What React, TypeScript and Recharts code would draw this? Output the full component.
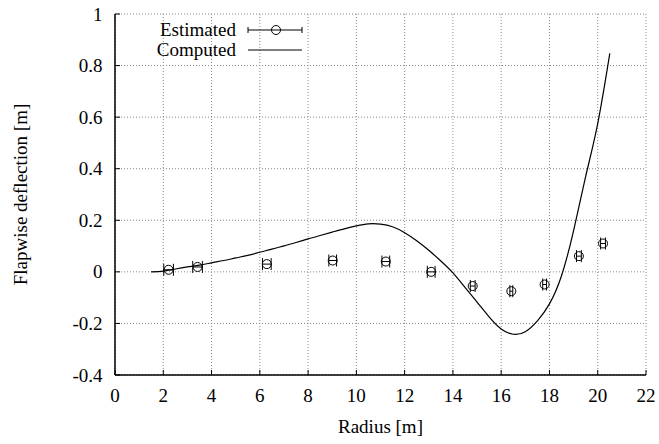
import {
  ComposedChart, Line, Scatter, ErrorBar, XAxis, YAxis, CartesianGrid, Legend
} from 'recharts';

const estRadius = [2.22, 3.42, 6.29, 9.02, 11.22, 13.1, 14.82, 16.42, 17.8, 19.22, 20.22];
const estDeflection = [0.008, 0.019, 0.03, 0.044, 0.04, 0.0, -0.055, -0.075, -0.049, 0.061, 0.11];
const estError = [0.2, 0.2, 0.18, 0.16, 0.16, 0.16, 0.1, 0.06, 0.08, 0.1, 0.1];

const compRadius = [
  1.5, 2, 2.5, 3, 3.5, 4, 4.5, 5, 5.5, 6, 6.5, 7, 7.5, 8, 8.5, 9, 9.5, 10, 10.5, 11,
  11.5, 12, 12.5, 13, 13.5, 14, 14.5, 15, 15.5, 16, 16.5, 17, 17.5, 18, 18.5, 19,
  19.5, 20, 20.5,
];
const compDeflection = [
  0, 0.003, 0.011, 0.019, 0.026, 0.035, 0.044, 0.054, 0.064, 0.076, 0.088, 0.101, 0.114,
  0.128, 0.141, 0.154, 0.167, 0.178, 0.186, 0.185, 0.175, 0.152, 0.121, 0.084, 0.042,
  -0.004, -0.06, -0.117, -0.175, -0.222, -0.242, -0.232, -0.19, -0.124, -0.015, 0.16,
  0.37, 0.575, 0.847,
];

const xTicks = [0, 2, 4, 6, 8, 10, 12, 14, 16, 18, 20, 22];
const yTicks = [-0.4, -0.2, 0, 0.2, 0.4, 0.6, 0.8, 1];

const estimated = estRadius.map((r, i) => ({ r, d: estDeflection[i], err: estError[i] }));
const computed = compRadius.map((r, i) => ({ r, d: compDeflection[i] }));

const FONT = '"Liberation Serif", "Times New Roman", serif';
const FS = 19;
const textStyle = { fontFamily: FONT, fontSize: FS };

// pin the serif face with an inline !important so nothing else wins
const pinFont = (el: SVGTextElement | null) => {
  if (!el) return;
  el.style.setProperty('font-family', FONT, 'important');
  el.style.setProperty('font-size', FS + 'px', 'important');
};

const SerifText = ({ children, ...rest }: any) => (
  <text ref={pinFont} fill="#000" style={textStyle} {...rest}>{children}</text>
);

const XTick = ({ x, y, payload }: any) => (
  <SerifText x={x} y={y + 14} textAnchor="middle">{payload.value}</SerifText>
);

const YTick = ({ x, y, payload }: any) => (
  <SerifText x={x} y={y + 6.5} textAnchor="end">{payload.value}</SerifText>
);

const Ring = (props: any) => (
  <circle cx={props.cx} cy={props.cy} r={4.5} fill="none" stroke="#000" strokeWidth={1} />
);

const LegendBox = () => (
  <svg width={320} height={64} style={{ display: 'block' }}>
    <SerifText x={236} y={36} textAnchor="end">Estimated</SerifText>
    <SerifText x={236} y={56} textAnchor="end">Computed</SerifText>
    <g stroke="#000" strokeWidth={1} fill="none">
      <line x1={248} x2={302} y1={30} y2={30} />
      <line x1={248} x2={248} y1={27} y2={33} />
      <line x1={302} x2={302} y1={27} y2={33} />
      <circle cx={276} cy={30} r={4.5} />
      <line x1={248} x2={302} y1={50} y2={50} />
    </g>
  </svg>
);

const YLabel = ({ viewBox }: any) => {
  const cy = viewBox.y + viewBox.height / 2;
  return (
    <SerifText x={27} y={cy} transform={`rotate(-90 27 ${cy})`} textAnchor="middle">
      Flapwise deflection [m]
    </SerifText>
  );
};

const XLabel = ({ viewBox }: any) => (
  <SerifText x={viewBox.x + viewBox.width / 2} y={viewBox.y + 58} textAnchor="middle">
    Radius [m]
  </SerifText>
);

const blank = () => '';

export default function App() {
  return (
    <div style={{ position: 'absolute', left: 0, top: 0, background: '#fff' }}>
      <ComposedChart width={659} height={444} data={computed}
        margin={{ top: 14, right: 13, bottom: 0, left: 0 }}>
        <CartesianGrid xAxisId="b" yAxisId="l" stroke="#888" strokeDasharray="1 2"
          strokeWidth={1} />
        <XAxis xAxisId="t" orientation="top" type="number" dataKey="r" domain={[0, 22]}
          ticks={xTicks} height={0} tickSize={-5} tickFormatter={blank}
          axisLine={{ stroke: '#000', strokeWidth: 1.5 }} tickLine={{ stroke: '#000' }}
          allowDataOverflow />
        <XAxis xAxisId="b" orientation="bottom" type="number" dataKey="r" domain={[0, 22]}
          ticks={xTicks} height={69} tickSize={-5} tickMargin={18} tick={<XTick />}
          axisLine={{ stroke: '#000', strokeWidth: 1.5 }} tickLine={{ stroke: '#000' }}
          label={<XLabel />} allowDataOverflow />
        <YAxis yAxisId="l" orientation="left" type="number" domain={[-0.4, 1]} ticks={yTicks}
          width={115} tickSize={-5} tickMargin={17.5} tick={<YTick />}
          axisLine={{ stroke: '#000', strokeWidth: 1.5 }} tickLine={{ stroke: '#000' }}
          label={<YLabel />} allowDataOverflow />
        <YAxis yAxisId="r" orientation="right" type="number" domain={[-0.4, 1]} ticks={yTicks}
          width={0} tickSize={-5} tickFormatter={blank}
          axisLine={{ stroke: '#000', strokeWidth: 1.5 }} tickLine={{ stroke: '#000' }}
          allowDataOverflow />
        <Line xAxisId="b" yAxisId="l" type="natural" dataKey="d" stroke="#000"
          strokeWidth={1.2} dot={false} activeDot={false} isAnimationActive={false} />
        <Scatter xAxisId="b" yAxisId="l" data={estimated} dataKey="d" shape={Ring}
          isAnimationActive={false}>
          <ErrorBar dataKey="err" direction="x" width={6} stroke="#000" strokeWidth={1}
            isAnimationActive={false} />
        </Scatter>
        <Legend layout="vertical" align="center" verticalAlign="middle" content={<LegendBox />}
          wrapperStyle={{ left: 0, top: 0, width: 320, height: 64 }} />
      </ComposedChart>
    </div>
  );
}
